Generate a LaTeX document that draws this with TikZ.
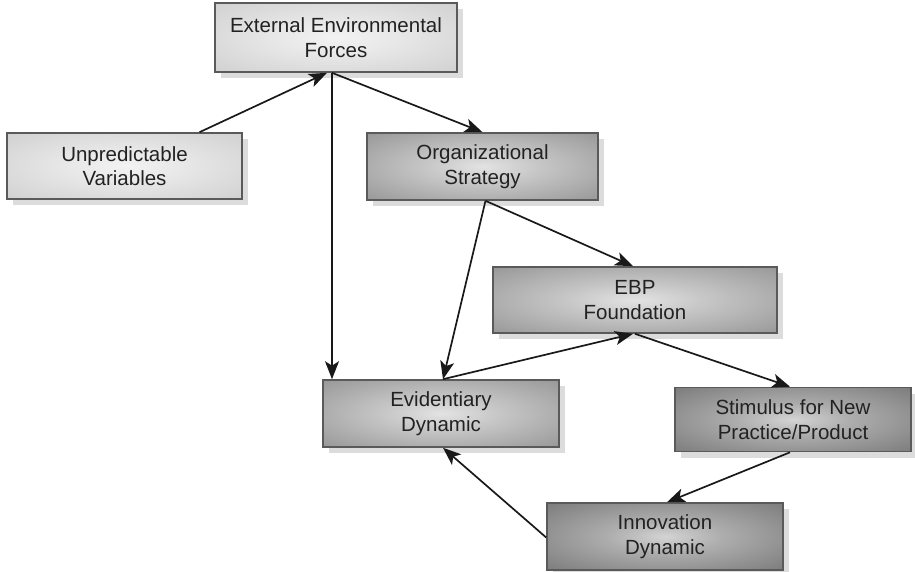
\documentclass[tikz,border=0pt]{standalone}
\usepackage{fontspec}
\setmainfont{Liberation Sans}
\usetikzlibrary{arrows.meta,calc}
\definecolor{shadowgray}{HTML}{DCDCDC}
\definecolor{boxborder}{HTML}{5A5A5A}
\definecolor{txt}{HTML}{222222}
\pgfdeclareradialshading{lightshade}{\pgfpoint{0bp}{0bp}}{color(0bp)=(white!95!black); color(12bp)=(white!91!black); color(40bp)=(white!80!black); color(50bp)=(white!80!black)}
\pgfdeclareradialshading{medshade}{\pgfpoint{0bp}{0bp}}{color(0bp)=(white!89!black); color(12bp)=(white!78!black); color(40bp)=(white!56!black); color(50bp)=(white!56!black)}
\pgfdeclareradialshading{darkshade}{\pgfpoint{0bp}{0bp}}{color(0bp)=(white!83!black); color(12bp)=(white!68!black); color(40bp)=(white!45!black); color(50bp)=(white!45!black)}
\tikzset{
  box/.style={draw=boxborder, line width=1.6pt, inner sep=0pt,
    minimum width=#1, align=center, text=txt,
    font=\fontsize{20.5}{24.5}\selectfont,
    preaction={fill=shadowgray, transform canvas={xshift=6pt,yshift=-6pt}}},
  light/.style={shading=lightshade},
  medium/.style={shading=medshade},
  dark/.style={shading=darkshade},
  conn/.style={line width=1.7pt, black!90,
    -{Stealth[length=18pt,width=14pt,inset=4.5pt]}}
}
\begin{document}
\begin{tikzpicture}[x=1pt,y=-1pt]
\useasboundingbox (0,0) rectangle (915,572);
\node[box=242pt, minimum height=69pt, light] (ext) at (336,37.5) {External Environmental\\Forces};
\node[box=235pt, minimum height=66pt, light] (unp) at (124.5,166) {Unpredictable\\Variables};
\node[box=231pt, minimum height=67pt, medium] (org) at (482.5,166.5) {Organizational\\Strategy};
\node[box=284pt, minimum height=66pt, medium] (ebp) at (635,300) {EBP\\Foundation};
\node[box=236pt, minimum height=67pt, medium] (evi) at (441,413.5) {Evidentiary\\Dynamic};
\node[box=236pt, minimum height=64pt, dark] (sti) at (793,419.5) {Stimulus for New\\Practice/Product};
\node[box=236pt, minimum height=67pt, dark] (inn) at (665,536.5) {Innovation\\Dynamic};

\coordinate (e1) at ($(ext.south)+(-4,0)$);
\coordinate (o1) at ($(org.south)+(3,0)$);
\coordinate (v1) at ($(evi.north)+(2,0)$);
\draw[conn] ($(unp.north)+(75,0)$) -- ($(ext.south)+(-9,0)$);
\draw[conn] (e1) -- (e1 |- evi.north);
\draw[conn] (e1) -- (org.north);
\draw[conn] (o1) -- ($(ebp.north)+(-2,0)$);
\draw[conn] (o1) -- (v1);
\draw[conn] (v1) -- ($(ebp.south)+(-2,0)$);
\draw[conn] (ebp.south) -- ($(sti.north)+(-3,0)$);
\draw[conn] ($(sti.south)+(-3,0)$) -- ($(inn.north)+(2,0)$);
\draw[conn] ($(inn.west)+(0,1)$) -- ($(evi.south)+(2,0)$);
\end{tikzpicture}
\end{document}
